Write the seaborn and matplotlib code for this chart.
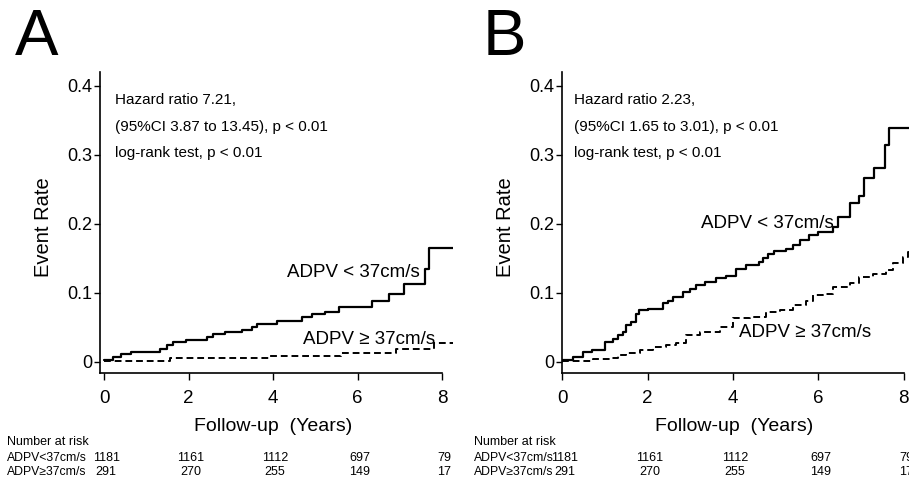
import matplotlib
matplotlib.use("Agg")
import matplotlib.pyplot as plt
import matplotlib.transforms as mtransforms
import pandas as pd
import seaborn as sns

# cumulative event rate, step data
a_lt_t = [0, 0.21, 0.41, 0.65, 1.32, 1.48, 1.64, 1.95, 2.43, 2.58, 2.86, 3.26, 3.49, 3.61, 4.09,
          4.68, 4.92, 5.23, 5.55, 6.34, 6.74, 7.09, 7.60, 7.68, 8.25]
a_lt_r = [0.003, 0.007, 0.011, 0.014, 0.019, 0.024, 0.029, 0.032, 0.036, 0.040, 0.043, 0.047, 0.051,
          0.055, 0.059, 0.065, 0.069, 0.072, 0.080, 0.088, 0.099, 0.113, 0.135, 0.165, 0.165]
a_ge_t = [0, 1.55, 3.9, 5.6, 6.9, 7.8, 8.25]
a_ge_r = [0.002, 0.006, 0.009, 0.013, 0.019, 0.028, 0.028]

b_lt_t = [0, 0.26, 0.49, 0.69, 1.00, 1.19, 1.31, 1.43, 1.50, 1.62, 1.74, 1.81, 2.01, 2.36, 2.48,
          2.60, 2.83, 2.99, 3.14, 3.34, 3.61, 3.84, 4.08, 4.31, 4.62, 4.70, 4.82, 4.97, 5.25, 5.40,
          5.56, 5.79, 5.99, 6.34, 6.46, 6.73, 6.96, 7.08, 7.31, 7.55, 7.66, 8.25]
b_lt_r = [0.003, 0.007, 0.014, 0.018, 0.029, 0.034, 0.039, 0.044, 0.053, 0.058, 0.069, 0.075, 0.077,
          0.085, 0.089, 0.094, 0.101, 0.106, 0.111, 0.116, 0.121, 0.124, 0.135, 0.140, 0.145, 0.150,
          0.157, 0.161, 0.164, 0.169, 0.177, 0.184, 0.189, 0.196, 0.210, 0.230, 0.240, 0.266, 0.281,
          0.315, 0.339, 0.339]
b_ge_t = [0, 0.73, 1.12, 1.31, 1.50, 1.82, 2.13, 2.44, 2.67, 2.91, 3.22, 3.69, 4.0, 4.39, 4.78,
          5.09, 5.40, 5.72, 5.87, 6.1, 6.34, 6.73, 6.96, 7.27, 7.59, 7.74, 7.98, 8.09, 8.25]
b_ge_r = [0.001, 0.004, 0.006, 0.010, 0.013, 0.017, 0.021, 0.024, 0.028, 0.039, 0.044, 0.051, 0.063,
          0.065, 0.073, 0.075, 0.082, 0.089, 0.097, 0.099, 0.109, 0.114, 0.123, 0.128, 0.133, 0.143,
          0.152, 0.160, 0.160]

panel_letters = ["A", "B"]
hazard_text = [["Hazard ratio 7.21,", "(95%CI 3.87 to 13.45), p < 0.01", "log-rank test, p < 0.01"],
               ["Hazard ratio 2.23,", "(95%CI 1.65 to 3.01), p < 0.01", "log-rank test, p < 0.01"]]
group_labels = ["ADPV < 37cm/s", "ADPV \u2265 37cm/s"]
risk_labels = ["ADPV<37cm/s", "ADPV\u226537cm/s"]
risk_times = [0, 2, 4, 6, 8]
risk_lt = [1181, 1161, 1112, 697, 79]
risk_ge = [291, 270, 255, 149, 17]

sns.set_theme(style="white")
plt.rcParams["font.family"] = ["Liberation Sans", "DejaVu Sans"]
plt.rcParams["text.color"] = "black"
plt.rcParams["axes.labelcolor"] = "black"

fig = plt.figure(figsize=(9.09, 4.83), dpi=100)
axes = [fig.add_axes([0.110, 0.2277, 0.388, 0.623]),
        fig.add_axes([0.618, 0.2277, 0.388, 0.623])]

curves = [((a_lt_t, a_lt_r), (a_ge_t, a_ge_r)), ((b_lt_t, b_lt_r), (b_ge_t, b_ge_r))]
x_left = [-0.095, -0.01]
lt_label_pos = [(4.33, 0.129), (3.24, 0.201)]
ge_label_pos = [(4.70, 0.032), (4.15, 0.042)]
risk_label_x = [-0.263, -0.249]
letter_x = [0.0165, 0.531]

for i, ax in enumerate(axes):
    (lt_t, lt_r), (ge_t, ge_r) = curves[i]
    df_lt = pd.DataFrame({"time": lt_t, "rate": lt_r})
    df_ge = pd.DataFrame({"time": ge_t, "rate": ge_r})
    sns.lineplot(data=df_lt, x="time", y="rate", ax=ax, color="black", lw=1.6,
                 drawstyle="steps-post", estimator=None)
    sns.lineplot(data=df_ge, x="time", y="rate", ax=ax, color="black", lw=1.4,
                 drawstyle="steps-post", estimator=None, dashes=False, linestyle=(0, (3.5, 2)))

    ax.set_xlim(x_left[i], 8.25)
    ax.set_ylim(-0.016, 0.42)
    ax.set_xticks(risk_times)
    ax.set_yticks([0, 0.1, 0.2, 0.3, 0.4])
    ax.set_yticklabels(["0", "0.1", "0.2", "0.3", "0.4"])
    for s in ["top", "right"]:
        ax.spines[s].set_visible(False)
    for s in ["left", "bottom"]:
        ax.spines[s].set_color("black")
        ax.spines[s].set_linewidth(1.2)
    ax.spines["bottom"].set_bounds(x_left[i], 8)
    ax.tick_params(axis="y", direction="out", length=4, width=1, pad=1.5, labelsize=13,
                   left=True, colors="black")
    ax.tick_params(axis="x", direction="out", length=5, width=1, pad=7, labelsize=13.5,
                   bottom=True, colors="black")

    ax.set_ylabel("Event Rate", fontsize=14.5)
    ax.yaxis.set_label_coords(-0.133, 0.485)
    ax.set_xlabel("Follow-up  (Years)", fontsize=14)
    ax.xaxis.set_label_coords(0.49, -0.15)

    for line, yv in zip(hazard_text[i], [0.380, 0.341, 0.303]):
        ax.text(0.27, yv, line, fontsize=11, va="center", ha="left")
    ax.text(*lt_label_pos[i], group_labels[0], fontsize=13.5, va="center", ha="left")
    ax.text(*ge_label_pos[i], group_labels[1], fontsize=13.5, va="center", ha="left")

    # number at risk table
    trans = mtransforms.blended_transform_factory(ax.transData, fig.transFigure)
    lab_trans = mtransforms.blended_transform_factory(ax.transAxes, fig.transFigure)
    ax.text(risk_label_x[i], 0.084, "Number at risk", transform=lab_trans, fontsize=9,
            va="center", ha="left", clip_on=False)
    ax.text(risk_label_x[i], 0.051, risk_labels[0], transform=lab_trans, fontsize=8.8,
            va="center", ha="left", clip_on=False)
    ax.text(risk_label_x[i], 0.022, risk_labels[1], transform=lab_trans, fontsize=8.8,
            va="center", ha="left", clip_on=False)
    for t, n1, n2 in zip(risk_times, risk_lt, risk_ge):
        ax.text(t + 0.05, 0.051, str(n1), transform=trans, fontsize=9, va="center",
                ha="center", clip_on=False)
        ax.text(t + 0.05, 0.022, str(n2), transform=trans, fontsize=9, va="center",
                ha="center", clip_on=False)

    fig.text(letter_x[i], 0.886, panel_letters[i], fontsize=47, va="baseline", ha="left")

fig.savefig("out.png", dpi=100)
